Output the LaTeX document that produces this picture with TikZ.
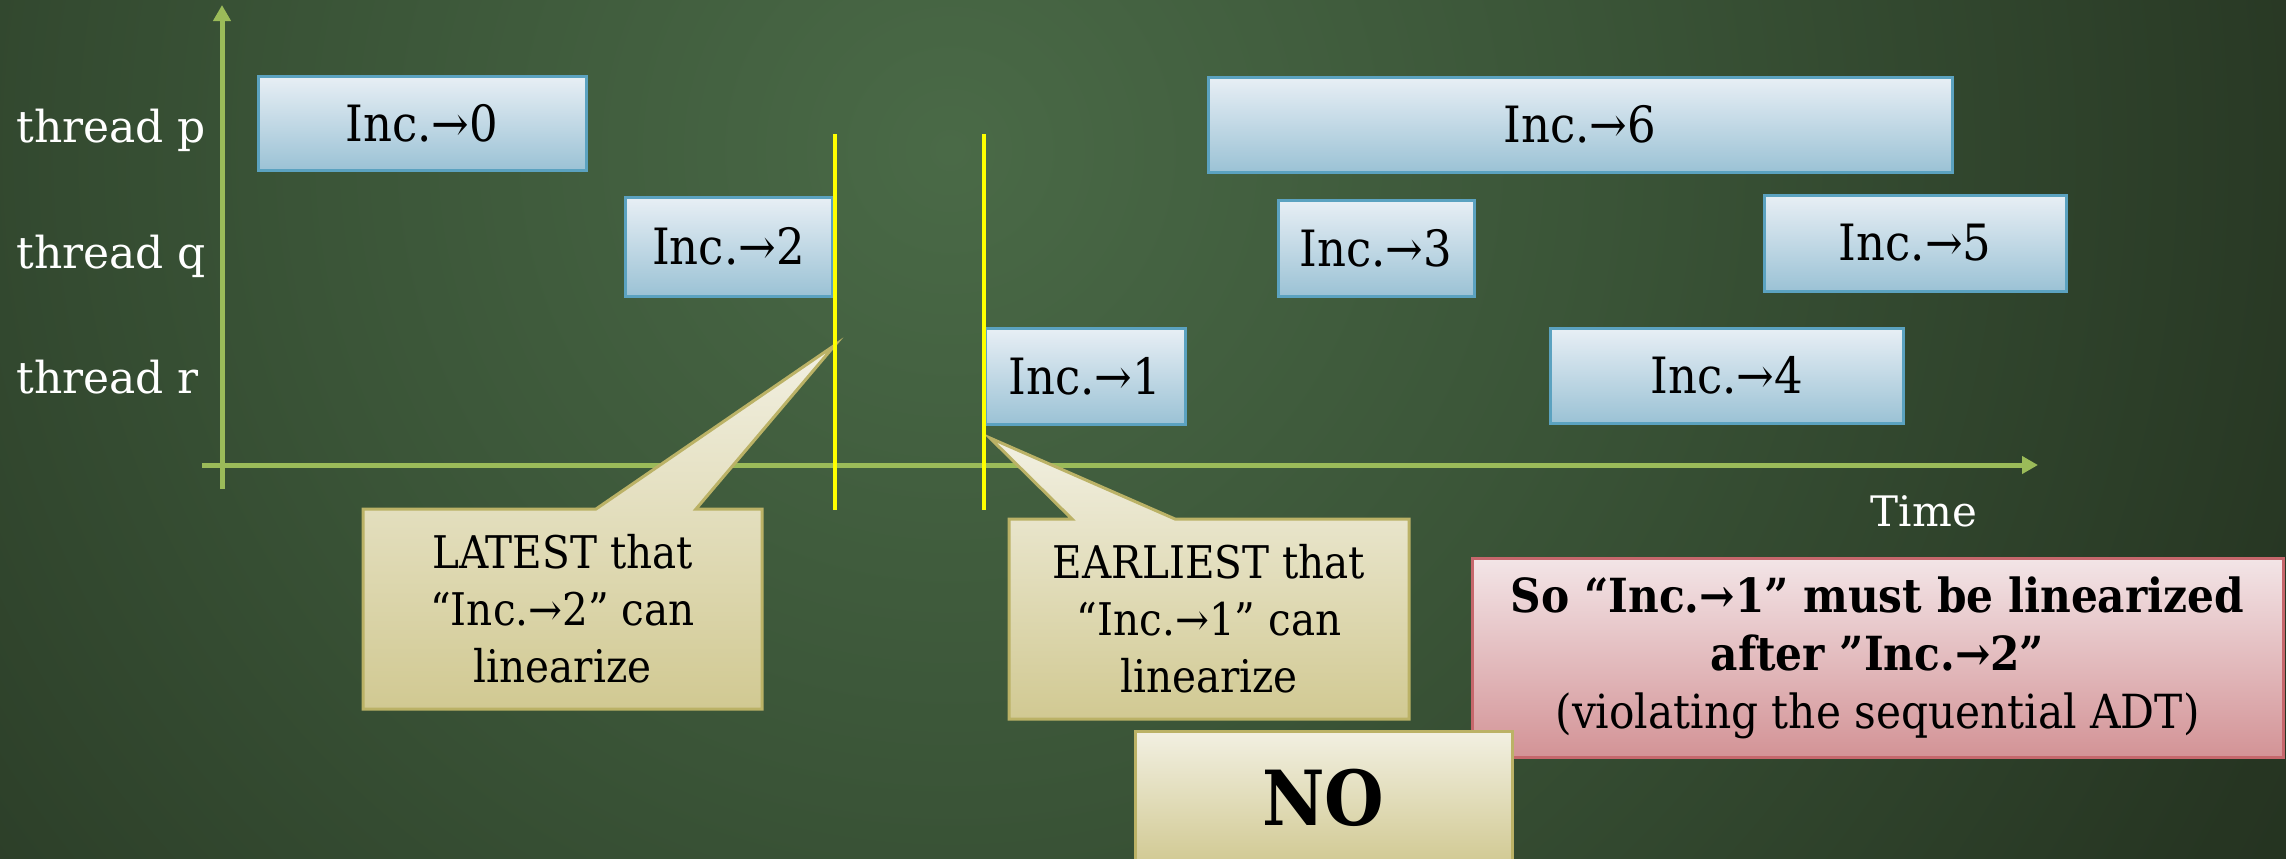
\documentclass[tikz,border=0pt]{standalone}
\usepackage{fontspec}
\setmainfont{DejaVu Serif}
\newfontfamily\condfont{DejaVu Serif Condensed}
\usetikzlibrary{arrows.meta}

\definecolor{bgA}{HTML}{4A6A47}
\definecolor{bgB}{HTML}{3A5437}
\definecolor{bgC}{HTML}{263522}
\definecolor{bgD}{HTML}{1A2417}
\definecolor{axisgreen}{HTML}{9BBB59}
\definecolor{incTop}{HTML}{E8EFF5}
\definecolor{incBot}{HTML}{9BC2D5}
\definecolor{incEdge}{HTML}{5BA2C0}
\definecolor{noteTop}{HTML}{F2F0E2}
\definecolor{noteBot}{HTML}{D1C992}
\definecolor{noteEdge}{HTML}{BBB266}
\definecolor{pinkTop}{HTML}{F3E5E7}
\definecolor{pinkBot}{HTML}{D39396}
\definecolor{pinkEdge}{HTML}{C6676C}
\definecolor{marker}{HTML}{FFFF00}

\pgfdeclareradialshading{backdropglow}{\pgfpoint{0bp}{0bp}}{%
  color(0bp)=(bgA); color(10bp)=(bgB); color(22bp)=(bgC); color(35bp)=(bgD); color(50bp)=(bgD)}

\pgfdeclarelayer{backdrop}
\pgfdeclarelayer{axes}
\pgfdeclarelayer{panels}
\pgfsetlayers{backdrop,axes,panels,main}

\begin{document}
\begin{tikzpicture}[x=0.5pt,y=-0.5pt,
  axis/.style={draw=axisgreen,line width=2.5pt,
    -{Triangle[length=8pt,width=8.5pt]}},
  thr/.style={text=white,font=\fontsize{22}{26}\selectfont,inner sep=0pt},
  inc/.style={draw=incEdge,line width=1.5pt,top color=incTop,bottom color=incBot,
    font=\condfont\fontsize{25}{29}\selectfont,inner sep=0pt,outer sep=0pt},
  notetext/.style={align=center,inner sep=0pt,outer sep=0pt,
    font=\condfont\fontsize{22.5}{28.5}\selectfont},
  notebody/.style={draw=noteEdge,line width=1.5pt,top color=noteTop,bottom color=noteBot},
  markline/.style={draw=marker,line width=2pt},
  pinkbox/.style={draw=pinkEdge,line width=1.5pt,top color=pinkTop,bottom color=pinkBot,
    align=center,inner sep=0pt,outer sep=0pt,font=\condfont\fontsize{23.5}{29}\selectfont},
  nobox/.style={draw=noteEdge,line width=1.5pt,top color=noteTop,bottom color=noteBot,
    inner sep=0pt,outer sep=0pt,font=\condfont\bfseries\fontsize{38}{44}\selectfont}
]
\useasboundingbox (0,0) rectangle (2286,858);

% dark green backdrop with a soft glow near the upper middle
\begin{pgfonlayer}{backdrop}
  \clip (0,0) rectangle (2286,858);
  \shade[shading=backdropglow] (950,150) circle (820pt);
\end{pgfonlayer}

% time axes
\coordinate (yfoot) at (222,489);
\coordinate (ytip)  at (222,5);
\coordinate (xfoot) at (202,465);
\coordinate (xtip)  at (2038,465);
\begin{pgfonlayer}{axes}
  \draw[axis] (yfoot) -- (ytip);
  \draw[axis] (xfoot) -- (xtip);
\end{pgfonlayer}
\node[text=white,font=\fontsize{21}{24}\selectfont] (time) at (1924,511) {Time};

% thread labels
\node[thr,anchor=base west] (tp) at (16,142) {thread p};
\node[thr,anchor=base west] (tq) at (16,268) {thread q};
\node[thr,anchor=base west] (tr) at (16,393) {thread r};

% increment intervals
\node[inc,minimum width=164pt,minimum height=47pt]   (i0) at (422,123)     {Inc.→0};
\node[inc,minimum width=103.5pt,minimum height=49.5pt] (i2) at (728.5,246.5) {Inc.→2};
\node[inc,minimum width=100pt,minimum height=48pt]   (i1) at (1085,376)    {Inc.→1};
\node[inc,minimum width=372pt,minimum height=47.5pt] (i6) at (1580,124.5)  {Inc.→6};
\node[inc,minimum width=98pt,minimum height=48pt]    (i3) at (1376,248)    {Inc.→3};
\node[inc,minimum width=151pt,minimum height=48pt]   (i5) at (1915,243)    {Inc.→5};
\node[inc,minimum width=176.5pt,minimum height=47.5pt] (i4) at (1726.5,375.5) {Inc.→4};

% linearization bounds
\coordinate (latTop) at (835,134);
\coordinate (latBot) at (835,510);
\coordinate (earTop) at (984,134);
\coordinate (earBot) at (984,510);
\draw[markline] (latTop) -- (latBot);
\draw[markline] (earTop) -- (earBot);

% callouts
\coordinate (latTip) at (835,345);
\coordinate (earTip) at (990,438);
\node[notetext,minimum width=199.5pt,minimum height=100pt] (lat) at (562.5,609)
  {LATEST that\\“Inc.→2” can\\linearize};
\node[notetext,minimum width=200pt,minimum height=100pt] (ear) at (1209,619)
  {EARLIEST that\\“Inc.→1” can\\linearize};
\begin{pgfonlayer}{panels}
  \shade[notebody] (lat.north west) -- (596,509) -- (latTip) -- (696,509)
    -- (lat.north east) -- (lat.south east) -- (lat.south west) -- cycle;
  \shade[notebody] (ear.north west) -- (1072,519) -- (earTip) -- (1175,519)
    -- (ear.north east) -- (ear.south east) -- (ear.south west) -- cycle;
\end{pgfonlayer}

% conclusion
\node[pinkbox,minimum width=405.5pt,minimum height=99.5pt] (so) at (1877.5,657.5)
  {\bfseries So “Inc.→1” must be linearized\\\bfseries after ”Inc.→2”\\(violating the sequential ADT)};
\node[nobox,minimum width=188.5pt,minimum height=67pt] (no) at (1323.5,798) {NO};
\end{tikzpicture}
\end{document}
